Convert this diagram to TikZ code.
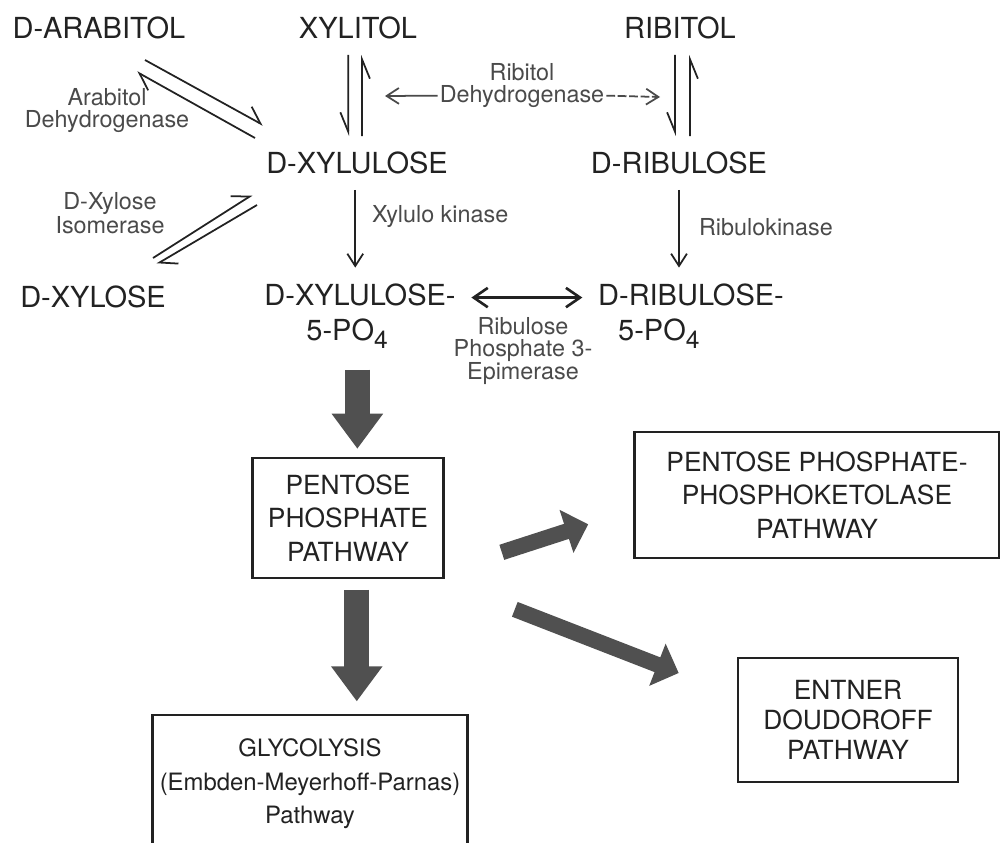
\documentclass[tikz,border=0pt]{standalone}
\usepackage{fontspec}
\setmainfont{TeX Gyre Heros}
\usetikzlibrary{arrows.meta}
\definecolor{inkgray}{HTML}{222222}
\definecolor{labelgray}{HTML}{4A4A4A}
\definecolor{blockgray}{HTML}{505050}
\newcommand{\phos}{5-PO\raisebox{-0.55ex}{\fontsize{14}{14}\selectfont 4}}
\tikzset{
    %Define standard arrow tip
    >={Straight Barb[length=7pt,width=9pt]},
    %Define style for compound names
    chem/.style={
             text=inkgray, inner sep=2pt, outer sep=7pt,
             font=\fontsize{16.5}{20}\selectfont},
    %Define style for enzyme labels
    enzyme/.style={
             text=labelgray, inner sep=1pt, align=center,
             font=\fontsize{13.3}{12.5}\selectfont},
    %Define style for pathway boxes
    pathbox/.style={
             draw=inkgray, line width=1.5pt, align=center, inner sep=0pt,
             text=inkgray, font=\fontsize{15}{19}\selectfont},
    % Define arrow styles
    eqleft/.style={
            -{Straight Barb[harpoon,length=9pt,width=12pt]},
            line width=1pt, inkgray},
    eqright/.style={
            -{Straight Barb[harpoon,swap,length=11pt,width=9pt]},
            line width=1pt, inkgray},
    steparrow/.style={
            ->, line width=1pt, inkgray},
    dharrow/.style={
            ->, line width=1pt, labelgray},
    epiarrow/.style={
            {Straight Barb[length=8pt,width=11pt]}-{Straight Barb[length=8pt,width=11pt]},
            line width=1.5pt, inkgray},
    bigarrow/.style={
            -{Triangle[length=20pt,width=28pt]},
            line width=14pt, blockgray},
    diagarrow/.style={
            -{Triangle[length=13pt,width=25pt]},
            line width=9pt, blockgray}
}

\begin{document}
\begin{tikzpicture}[x=0.02cm, y=-0.02cm]
 \useasboundingbox (0,0) rectangle (1000,842);
 % compounds
 \node[chem] (arabitol) at (99,28) {D-ARABITOL};
 \node[chem] (xylitol) at (358,28) {XYLITOL};
 \node[chem] (ribitol) at (680,28) {RIBITOL};
 \node[chem] (xylulose) at (357,163) {D-XYLULOSE};
 \node[chem] (ribulose) at (679,163) {D-RIBULOSE};
 \node[chem] (xylose) at (93,297) {D-XYLOSE};
 \node[chem, align=left] (xylulosep) at (360,316) {D-XYLULOSE-\\\hspace*{0.84cm}\phos};
 \node[chem, align=left] (ribulosep) at (691,316) {D-RIBULOSE-\\\hspace*{0.4cm}\phos};
 % enzymes
 \node[enzyme] (arabdh) at (107,111) {Arabitol\\Dehydrogenase};
 \node[enzyme] (xylisom) at (110,213) {D-Xylose\\Isomerase};
 \node[enzyme] (ribdh) at (522,86) {Ribitol\\Dehydrogenase};
 \node[enzyme, anchor=west] (xylkin) at (370,217) {Xylulo kinase};
 \node[enzyme, anchor=west] (ribkin) at (697,227) {Ribulokinase};
 \node[enzyme] (epim) at (523,351) {Ribulose\\Phosphate 3-\\Epimerase};
 % pathways
 \node[pathbox, minimum width=3.82cm, minimum height=2.4cm] (ppp) at (348,518) {PENTOSE\\PHOSPHATE\\PATHWAY};
 \node[pathbox, minimum width=7.3cm, minimum height=2.52cm] (ppk) at (817,495) {PENTOSE PHOSPHATE-\\PHOSPHOKETOLASE\\PATHWAY};
 \node[pathbox, minimum width=4.4cm, minimum height=2.48cm, font=\fontsize{15}{17}\selectfont] (entner) at (848,720) {ENTNER\\DOUDOROFF\\PATHWAY};
 \node[pathbox, minimum width=6.3cm, minimum height=2.76cm, font=\fontsize{13.6}{19}\selectfont] (glyco) at (310,784) {GLYCOLYSIS\\(Embden-Meyerhoff-Parnas)\\Pathway};
 \coordinate (ribdhL) at (385,96);
 \coordinate (ribdhR) at (660,97);
 % equilibria
 \draw[eqleft] ([shift={(46,32)}]arabitol.center) -- ([shift={(-94,-38)}]xylulose.center);
 \draw[eqleft] ([shift={(-102,-25)}]xylulose.center) -- ([shift={(38,44)}]arabitol.center);
 \draw[eqleft] ([shift={(60,-39)}]xylose.center) -- ([shift={(-105,32)}]xylulose.center);
 \draw[eqleft] ([shift={(-100,42)}]xylulose.center) -- ([shift={(64,-33)}]xylose.center);
 \draw[eqright] ([xshift=-5.5pt]xylitol.south) -- ([xshift=-5pt]xylulose.north);
 \draw[eqright] ([xshift=2.8pt]xylulose.north) -- ([xshift=2.3pt]xylitol.south);
 \draw[eqright] ([xshift=-2.8pt]ribitol.south) -- ([xshift=-2.3pt]ribulose.north);
 \draw[eqright] ([xshift=6.2pt]ribulose.north) -- ([xshift=5.7pt]ribitol.south);
 \draw[dharrow] ([yshift=-5.5pt]ribdh.west) -- (ribdhL);
 \draw[dharrow, dash pattern=on 5pt off 1.5pt] ([yshift=-5.5pt]ribdh.east) -- (ribdhR);
 % kinases and epimerase
 \draw[steparrow] ([xshift=-1pt]xylulose.south) -- ([xshift=-1pt]xylulose.south |- xylulosep.north);
 \draw[steparrow] (ribulose.south) -- (ribulose.south |- ribulosep.north);
 \draw[epiarrow] ([yshift=10.5pt]xylulosep.east) -- ([yshift=10.5pt]ribulosep.west);
 % flux to the pathways
 \draw[bigarrow, shorten <=3pt, shorten >=4.5pt] ([xshift=-1.5pt]xylulosep.south) -- ([xshift=-1.5pt]xylulosep.south |- ppp.north);
 \draw[bigarrow, shorten <=6pt, shorten >=7pt] ([xshift=5pt]ppp.south) -- ([xshift=5pt]ppp.south |- glyco.north);
 \draw[diagarrow] ([shift={(57,-27)}]ppp.south east) -- ([shift={(-45,-35)}]ppk.south west);
 \draw[diagarrow] ([shift={(70,30)}]ppp.south east) -- ([shift={(-58,-47)}]entner.west);
\end{tikzpicture}
\end{document}
